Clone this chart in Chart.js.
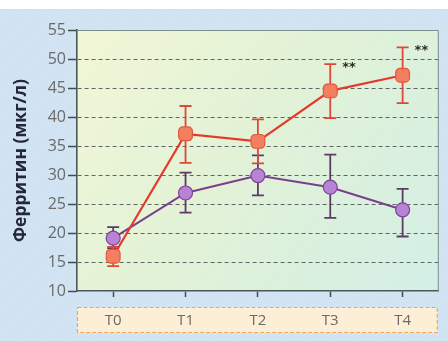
<!DOCTYPE html>
<html>
<head>
<meta charset="utf-8">
<script src="https://cdn.jsdelivr.net/npm/chart.js@4/dist/chart.umd.min.js"></script>
<style>
  html, body { margin: 0; padding: 0; background: #ffffff; }
  #wrap { width: 448px; height: 341px; }
</style>
</head>
<body>
<div id="wrap"><canvas id="c" width="448" height="341"></canvas></div>
<script>
// Time points on the x axis
const timePoints = ['T0', 'T1', 'T2', 'T3', 'T4'];

// Red group: mean ferritin and error bar limits (мкг/л)
const redMean = [16.0, 37.1, 35.8, 44.5, 47.2];
const redLow  = [14.3, 32.1, 32.0, 39.8, 42.4];
const redHigh = [17.6, 41.9, 39.6, 49.1, 52.0];

// Purple group: mean ferritin and error bar limits (мкг/л)
const purpleMean = [19.1, 26.9, 29.9, 27.9, 24.0];
const purpleLow  = [17.4, 23.5, 26.5, 22.6, 19.4];
const purpleHigh = [21.0, 30.4, 33.4, 33.5, 27.6];

// Significance marks above the red group's error bars
const redMarks = ['', '', '', '**', '**'];

// Y axis tick values
const yTicks = [10, 15, 20, 25, 30, 35, 40, 45, 50, 55];

const AXIS_FONT = '"Open Sans", "Noto Sans", sans-serif';

// Backdrop: blue hatched panel, tinted plot area, label strip under the axis
const backdrop = {
  id: 'backdrop',
  beforeDraw(chart) {
    const { ctx, chartArea: a, width, height } = chart;
    ctx.save();
    ctx.fillStyle = '#ffffff';
    ctx.fillRect(0, 0, width, height);

    // blue panel
    ctx.fillStyle = '#cee2f2';
    ctx.fillRect(0, 9, width, height - 9);
    ctx.beginPath();
    ctx.rect(0, 9, width, height - 9);
    ctx.clip();
    ctx.strokeStyle = 'rgba(255,255,255,0.16)';
    ctx.lineWidth = 1;
    for (let k = -height; k < width + height; k += 3) {
      ctx.beginPath();
      ctx.moveTo(k, height);
      ctx.lineTo(k + height, 0);
      ctx.stroke();
    }
    ctx.restore();

    // plot area tint
    ctx.save();
    const g = ctx.createLinearGradient(a.left, a.top, a.right, a.bottom);
    g.addColorStop(0, '#f2f7d6');
    g.addColorStop(0.45, '#e2f2d6');
    g.addColorStop(1, '#d3efe6');
    ctx.fillStyle = g;
    ctx.fillRect(a.left, a.top, a.right - a.left, a.bottom - a.top);

    // label strip beneath the x axis
    const x0 = a.left, x1 = a.right - 1, y0 = a.bottom + 16, y1 = a.bottom + 42;
    ctx.fillStyle = '#fcefd6';
    ctx.fillRect(x0, y0, x1 - x0, y1 - y0);
    ctx.setLineDash([4, 2]);
    ctx.strokeStyle = '#e6a85c';
    ctx.lineWidth = 1.2;
    ctx.strokeRect(x0 + 0.5, y0 + 0.5, x1 - x0 - 1, y1 - y0 - 1);
    ctx.restore();
  },
  beforeDatasetsDraw(chart) {
    const { ctx, chartArea: a } = chart;
    // thin top and right frame of the plot area
    ctx.save();
    ctx.strokeStyle = '#7d8c8c';
    ctx.lineWidth = 1;
    ctx.beginPath();
    ctx.moveTo(a.left, a.top + 0.5);
    ctx.lineTo(a.right - 0.5, a.top + 0.5);
    ctx.lineTo(a.right - 0.5, a.bottom);
    ctx.stroke();
    ctx.restore();
  }
};

// Error bars with caps, drawn beneath the markers
const errorBars = {
  id: 'errorBars',
  beforeDatasetsDraw(chart) {
    const { ctx } = chart;
    const xs = chart.scales.x, ys = chart.scales.y;
    const sets = [
      { low: purpleLow, high: purpleHigh, color: '#5e3b64' },
      { low: redLow, high: redHigh, color: '#e0473a' }
    ];
    ctx.save();
    sets.forEach(s => {
      ctx.strokeStyle = s.color;
      ctx.lineWidth = 1.8;
      timePoints.forEach((t, i) => {
        const x = xs.getPixelForValue(i);
        const yl = ys.getPixelForValue(s.low[i]);
        const yh = ys.getPixelForValue(s.high[i]);
        ctx.beginPath();
        ctx.moveTo(x, yl); ctx.lineTo(x, yh);
        ctx.moveTo(x - 6, yl); ctx.lineTo(x + 6, yl);
        ctx.moveTo(x - 6, yh); ctx.lineTo(x + 6, yh);
        ctx.stroke();
      });
    });
    ctx.restore();
  },
  afterDatasetsDraw(chart) {
    const { ctx } = chart;
    const xs = chart.scales.x, ys = chart.scales.y;
    ctx.save();
    ctx.fillStyle = '#2b2b2b';
    ctx.font = 'bold 13px "DejaVu Sans", sans-serif';
    ctx.textAlign = 'left';
    ctx.textBaseline = 'middle';
    redMarks.forEach((m, i) => {
      if (!m) return;
      const x = xs.getPixelForValue(i) + 12;
      const y = ys.getPixelForValue(redHigh[i]) + 3;
      ctx.fillText(m, x, y);
    });
    ctx.restore();
  }
};

new Chart(document.getElementById('c'), {
  type: 'line',
  data: {
    labels: timePoints,
    datasets: [
      {
        label: 'red',
        data: redMean,
        borderColor: '#e5392b',
        borderWidth: 2.2,
        pointStyle: 'rectRounded',
        pointRadius: 8,
        pointBackgroundColor: '#f47f5e',
        pointBorderColor: '#e2563e',
        pointBorderWidth: 1.2,
        tension: 0
      },
      {
        label: 'purple',
        data: purpleMean,
        borderColor: '#7a3f8c',
        borderWidth: 2,
        pointStyle: 'circle',
        pointRadius: 7,
        pointBackgroundColor: '#b883d6',
        pointBorderColor: '#7b4690',
        pointBorderWidth: 1.2,
        tension: 0
      }
    ]
  },
  options: {
    responsive: false,
    animation: false,
    devicePixelRatio: 1,
    layout: { padding: { left: 0, right: 9, top: 30, bottom: 0 } },
    plugins: {
      legend: { display: false },
      tooltip: { enabled: false }
    },
    scales: {
      x: {
        type: 'category',
        offset: true,
        grid: {
          drawOnChartArea: false,
          drawTicks: true,
          tickLength: 6,
          tickColor: '#3f4d4d',
          tickWidth: 1.5
        },
        border: { display: true, color: '#4a5858', width: 1.6 },
        ticks: {
          color: '#6a6a6a',
          font: { family: AXIS_FONT, size: 15 },
          padding: 15
        },
        afterFit(scale) { scale.height = 50; }
      },
      y: {
        min: 10,
        max: 55,
        afterBuildTicks(scale) { scale.ticks = yTicks.map(v => ({ value: v })); },
        grid: {
          color: ctx => (ctx.tick && (ctx.tick.value === 10 || ctx.tick.value === 55)) ? 'rgba(0,0,0,0)' : '#5d6666',
          lineWidth: 1,
          drawTicks: true,
          tickLength: 9,
          tickColor: '#3f4d4d',
          tickWidth: 1.5,
          tickBorderDash: []
        },
        border: { display: true, color: '#4a5858', width: 1.6, dash: [4, 3] },
        ticks: {
          color: '#6a6a6a',
          font: { family: AXIS_FONT, size: 16 },
          padding: 2
        },
        title: {
          display: true,
          text: 'Ферритин (мкг/л)',
          color: '#25283a',
          font: { family: AXIS_FONT, size: 17.5, weight: 'bold' },
          padding: { top: 11, bottom: 0 }
        },
        afterFit(scale) { scale.width = 77; }
      }
    }
  },
  plugins: [backdrop, errorBars]
});
</script>
</body>
</html>
